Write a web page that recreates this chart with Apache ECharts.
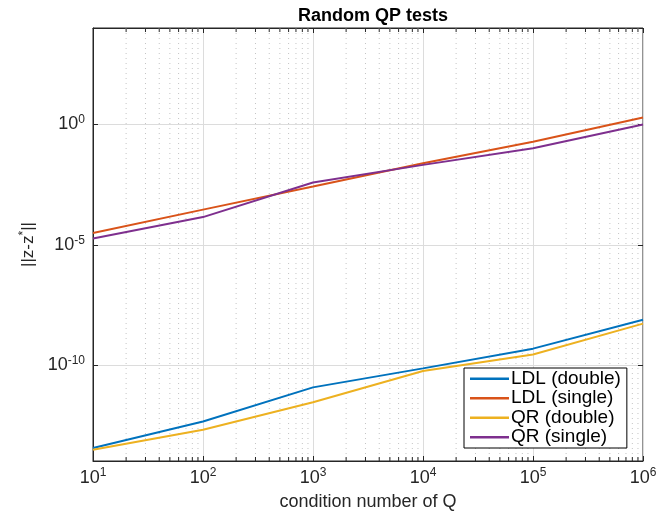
<!DOCTYPE html>
<html>
<head>
<meta charset="utf-8">
<script src="https://cdn.jsdelivr.net/npm/echarts@6/dist/echarts.min.js"></script>
<style>
  html, body { margin: 0; padding: 0; background: #fff; }
  #chart { width: 672px; height: 516px; }
</style>
</head>
<body>
<div id="chart"></div>
<script>
// condition numbers of Q (x)
var condNumbers = [1e1, 1e2, 1e3, 1e4, 1e5, 1e6];
// error ||z - z*|| for each solver
var ldlDouble = [3.47e-14, 4.37e-13, 1.15e-11, 7.08e-11, 4.68e-10, 7.41e-9];
var ldlSingle = [3.02e-5, 2.82e-4, 2.57e-3, 2.4e-2, 1.86e-1, 1.91];
var qrDouble = [2.95e-14, 2.0e-13, 2.75e-12, 5.5e-11, 2.69e-10, 5.13e-9];
var qrSingle = [1.78e-5, 1.38e-4, 3.8e-3, 2.04e-2, 1.0e-1, 0.977];
var seriesNames = ['LDL (double)', 'LDL (single)', 'QR (double)', 'QR (single)'];
var seriesColors = ['#0072BD', '#D95319', '#EDB120', '#7E2F8E'];
// axis range / ticks
var xMin = 1e1, xMax = 1e6;
var yMin = 1e-14, yMax = 1e4;
var yMajorTicks = [1e-10, 1e-5, 1e0];
var xMinorTicks = [];
for (var d = 1; d < 6; d++) {
    for (var k = 2; k <= 9; k++) xMinorTicks.push(k * Math.pow(10, d));
}

var FONT = 'Liberation Sans, Arial, Helvetica, sans-serif';
var AXIS_COLOR = '#262626';

function pairs(xs, ys) {
    return xs.map(function (x, i) { return [x, ys[i]]; });
}
function powLabel(v) {
    var e = Math.round(Math.log10(v));
    return '10{sup|' + e + '}';
}
var labelRich = {
    sup: { fontSize: 12, fontFamily: FONT, color: AXIS_COLOR, padding: [0, 0, 10, 0] }
};

function lineSeries(i, values) {
    return {
        name: seriesNames[i],
        type: 'line',
        symbol: 'none',
        z: 3,
        color: seriesColors[i],
        itemStyle: { color: seriesColors[i] },
        lineStyle: { width: 2, color: seriesColors[i] },
        data: pairs(condNumbers, values)
    };
}

var chart = echarts.init(document.getElementById('chart'));

var option = {
    backgroundColor: '#fff',
    animation: false,
    title: {
        text: 'Random QP tests',
        left: 368,
        top: 2,
        textAlign: 'center',
        textStyle: { fontFamily: FONT, fontSize: 18, fontWeight: 'bold', color: '#000' }
    },
    legend: {
        data: seriesNames,
        orient: 'vertical',
        left: 464,
        top: 368,
        icon: 'rect',
        itemWidth: 39,
        itemHeight: 2.5,
        itemGap: 0,
        padding: [1, 6, 1, 6],
        backgroundColor: '#fff',
        borderColor: '#000',
        borderWidth: 1,
        borderRadius: 0,
        textStyle: { fontFamily: FONT, fontSize: 19, color: '#000', lineHeight: 19.5, padding: [0, 0, 0, -3] }
    },
    grid: {
        left: 93, right: 29, top: 28, bottom: 54,
        show: true, borderColor: AXIS_COLOR, borderWidth: 1, backgroundColor: '#fff'
    },
    xAxis: [{
        type: 'log',
        logBase: 10,
        min: xMin,
        max: xMax,
        position: 'bottom',
        name: 'condition number of Q',
        nameLocation: 'middle',
        nameGap: 32,
        nameTextStyle: { fontFamily: FONT, fontSize: 18, color: AXIS_COLOR },
        axisLine: { lineStyle: { color: AXIS_COLOR } },
        axisTick: { inside: true, length: 5, lineStyle: { color: AXIS_COLOR } },
        axisLabel: {
            margin: 6,
            fontFamily: FONT, fontSize: 18, color: AXIS_COLOR,
            formatter: powLabel,
            rich: labelRich
        },
        splitLine: { show: true, lineStyle: { color: '#dcdcdc' } }
    }, {
        type: 'log',
        logBase: 10,
        min: xMin,
        max: xMax,
        position: 'top',
        axisLine: { lineStyle: { color: AXIS_COLOR } },
        axisTick: { inside: true, length: 5, lineStyle: { color: AXIS_COLOR } },
        axisLabel: { show: false },
        splitLine: { show: false }
    }],
    yAxis: [{
        type: 'log',
        logBase: 10,
        min: yMin,
        max: yMax,
        position: 'left',
        name: '||z-z{sup|*}||',
        nameLocation: 'middle',
        nameGap: 55,
        nameRotate: 90,
        nameTextStyle: {
            fontFamily: FONT, fontSize: 17, color: AXIS_COLOR,
            rich: { sup: { fontSize: 12, fontFamily: FONT, color: AXIS_COLOR, padding: [0, 0, 8, 0] } }
        },
        axisLine: { lineStyle: { color: AXIS_COLOR } },
        axisTick: { show: false },
        axisLabel: { show: false },
        splitLine: { show: false }
    }],
    series: [{
        // minor vertical grid + minor ticks on x
        type: 'custom',
        silent: true,
        z: 1,
        data: xMinorTicks.map(function (v) { return [v, yMin]; }),
        renderItem: function (params, api) {
            var v = api.value(0);
            var top = api.coord([v, yMax]);
            var bot = api.coord([v, yMin]);
            return {
                type: 'group',
                children: [{
                    type: 'line',
                    shape: { x1: top[0], y1: top[1], x2: bot[0], y2: bot[1] },
                    style: { stroke: '#c4c4c4', lineWidth: 1, lineDash: [1, 4] }
                }, {
                    type: 'line',
                    shape: { x1: top[0], y1: top[1], x2: top[0], y2: top[1] + 4 },
                    style: { stroke: AXIS_COLOR, lineWidth: 1 }
                }, {
                    type: 'line',
                    shape: { x1: bot[0], y1: bot[1], x2: bot[0], y2: bot[1] - 4 },
                    style: { stroke: AXIS_COLOR, lineWidth: 1 }
                }]
            };
        }
    }, {
        // major horizontal grid, ticks and tick labels on y
        type: 'custom',
        silent: true,
        z: 1,
        data: yMajorTicks.map(function (v) { return [xMin, v]; }),
        renderItem: function (params, api) {
            var v = api.value(1);
            var l = api.coord([xMin, v]);
            var r = api.coord([xMax, v]);
            var y = Math.round(l[1]) + 0.5;
            return {
                type: 'group',
                children: [{
                    type: 'line',
                    shape: { x1: l[0], y1: y, x2: r[0], y2: y },
                    style: { stroke: '#dcdcdc', lineWidth: 1 }
                }, {
                    type: 'line',
                    shape: { x1: l[0], y1: y, x2: l[0] + 5, y2: y },
                    style: { stroke: AXIS_COLOR, lineWidth: 1 }
                }, {
                    type: 'line',
                    shape: { x1: r[0], y1: y, x2: r[0] - 5, y2: y },
                    style: { stroke: AXIS_COLOR, lineWidth: 1 }
                }, {
                    type: 'text',
                    x: l[0] - 8,
                    y: y,
                    style: {
                        text: powLabel(v),
                        rich: labelRich,
                        fontFamily: FONT,
                        fontSize: 18,
                        fill: AXIS_COLOR,
                        align: 'right',
                        verticalAlign: 'middle'
                    }
                }]
            };
        }
    },
    lineSeries(0, ldlDouble),
    lineSeries(1, ldlSingle),
    lineSeries(2, qrDouble),
    lineSeries(3, qrSingle)]
};

chart.setOption(option);
</script>
</body>
</html>
